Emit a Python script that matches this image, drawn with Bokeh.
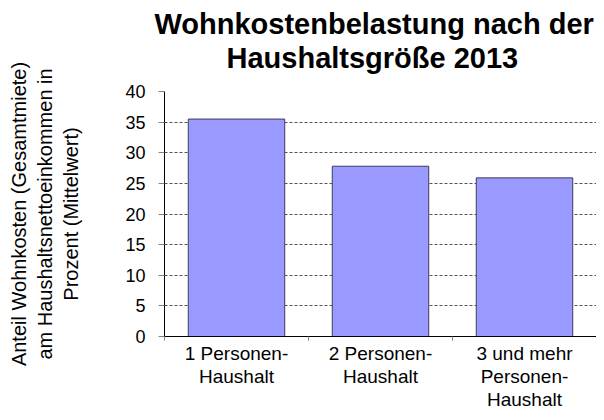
from bokeh.plotting import figure
from bokeh.models import Range1d, FixedTicker, Title, ColumnDataSource
from bokeh.embed import file_html
from bokeh.resources import INLINE

categories = ["1 Personen-\nHaushalt", "2 Personen-\nHaushalt", "3 und mehr\nPersonen-\nHaushalt"]
values = [35.5, 27.8, 25.9]
y_ticks = [0, 5, 10, 15, 20, 25, 30, 35, 40]
title_lines = ["Wohnkostenbelastung nach der", "Haushaltsgröße 2013"]
y_label = "Anteil Wohnkosten (Gesamtmiete)\nam Haushaltsnettoeinkommen in\nProzent (Mittelwert)"

centers = [i + 0.5 for i in range(len(categories))]
edges = [i for i in range(len(categories) + 1)]

FONT = "Liberation Sans"

p = figure(width=596, height=412, output_backend="svg", toolbar_location=None,
           x_range=Range1d(0, len(categories)), y_range=Range1d(0, 40),
           min_border_left=164, min_border_right=0, min_border_top=91, min_border_bottom=76)
p.outline_line_color = None
p.background_fill_color = "white"
p.border_fill_color = "white"

src = ColumnDataSource(dict(x=centers, top=values))
p.vbar(x="x", top="top", width=0.67, bottom=0, source=src,
       fill_color="#9999ff", line_color="#3c3c5a", line_width=1)

# titles: spacer first (closest to plot), then second line, then first line
spacer = Title(text=" ", text_font=FONT, text_font_size="14px", standoff=0)
t2 = Title(text=title_lines[1], align="left", offset=62, text_font=FONT,
           text_font_size="29px", text_font_style="bold", text_color="black", standoff=0)
t1 = Title(text=title_lines[0], align="left", offset=-10, text_font=FONT,
           text_font_size="29px", text_font_style="bold", text_color="black", standoff=0)
p.add_layout(spacer, "above")
p.add_layout(t2, "above")
p.add_layout(t1, "above")

# x axis
xa = p.xaxis[0]
xa.ticker = FixedTicker(ticks=centers, minor_ticks=edges)
xa.major_label_overrides = {c: lab for c, lab in zip(centers, categories)}
xa.major_tick_line_color = None
xa.major_tick_out = 0
xa.minor_tick_line_color = "#808080"
xa.minor_tick_out = 4
xa.minor_tick_in = 0
xa.axis_line_color = "black"
xa.axis_line_width = 1
xa.major_label_text_font = FONT
xa.major_label_text_font_size = "19px"
xa.major_label_text_line_height = 1.1
xa.major_label_text_color = "black"
xa.major_label_standoff = 2

# y axis
ya = p.yaxis[0]
ya.ticker = FixedTicker(ticks=y_ticks)
ya.minor_tick_line_color = None
ya.major_tick_line_color = "#808080"
ya.major_tick_out = 6
ya.major_tick_in = 0
ya.axis_line_color = "black"
ya.major_label_text_font = FONT
ya.major_label_text_font_size = "18px"
ya.major_label_text_color = "black"
ya.major_label_standoff = 13
ya.axis_label = y_label
ya.axis_label_text_font = FONT
ya.axis_label_text_font_size = "20px"
ya.axis_label_text_font_style = "normal"
ya.axis_label_text_color = "black"
ya.axis_label_standoff = 40

p.xgrid.grid_line_color = None
p.ygrid.grid_line_color = "#555555"
p.ygrid.grid_line_dash = "3 2"
p.ygrid.grid_line_width = 1

open("out.html", "w").write(file_html(p, INLINE))
